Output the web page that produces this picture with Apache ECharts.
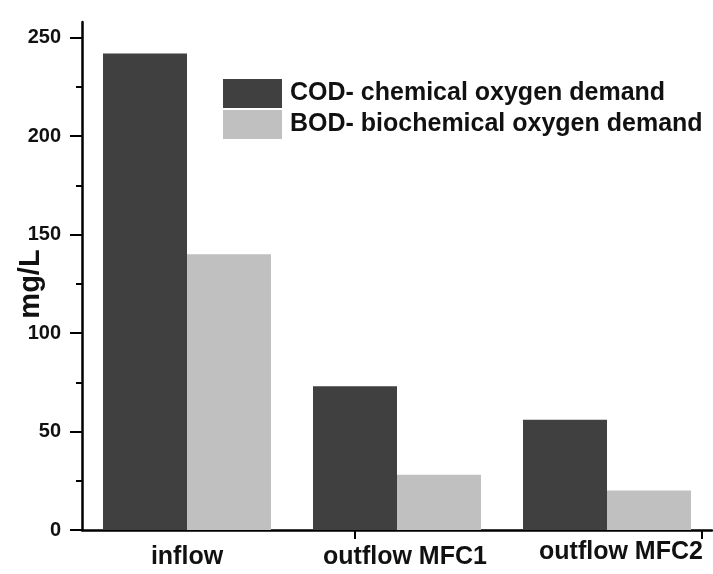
<!DOCTYPE html>
<html>
<head>
<meta charset="utf-8">
<script src="https://cdn.jsdelivr.net/npm/echarts@6/dist/echarts.min.js"></script>
<style>
  html, body { margin: 0; padding: 0; background: #fff; }
  #chart { width: 713px; height: 574px; }
</style>
</head>
<body>
<div id="chart"></div>
<script>
// Wastewater quality before and after the microbial fuel cells
const categories = ['inflow', 'outflow MFC1', 'outflow MFC2'];
const seriesNames = ['COD- chemical oxygen demand', 'BOD- biochemical oxygen demand'];
const codValues = [242, 73, 56];
const bodValues = [140, 28, 20];

// tick marks
const yMajorTicks = [0, 50, 100, 150, 200, 250];
const yMinorTicks = [25, 75, 125, 175, 225];
const xTickMarks = [1.3, 2.95];

const FONT = '"Liberation Sans", Arial, Helvetica, sans-serif';
const TEXT = '#111';
const Y_MAX = 258;
const CAT_FONT = 25;

const labelRich = {
  a: { fontFamily: FONT, fontWeight: 'bold', fontSize: CAT_FONT, color: TEXT, padding: [5, 0, 0, 0] },
  b: { fontFamily: FONT, fontWeight: 'bold', fontSize: CAT_FONT, color: TEXT, padding: [5, 0, 0, 16] },
  c: { fontFamily: FONT, fontWeight: 'bold', fontSize: CAT_FONT, color: TEXT, padding: [0, 0, 0, 28] }
};
const labelKeys = ['a', 'b', 'c'];

const chart = echarts.init(document.getElementById('chart'), null, { renderer: 'canvas' });

chart.setOption({
  animation: false,
  backgroundColor: '#ffffff',
  grid: { left: 82, right: 1, top: 22, bottom: 44, containLabel: false, outerBoundsMode: 'none' },
  legend: {
    data: seriesNames,
    orient: 'vertical',
    left: 223,
    top: 79,
    padding: 0,
    itemWidth: 59,
    itemHeight: 29,
    itemGap: 2,
    icon: 'rect',
    textStyle: { fontFamily: FONT, fontWeight: 'bold', fontSize: 25, color: TEXT, padding: [0, 0, 0, 3] }
  },
  xAxis: [
    {
      type: 'category',
      data: categories,
      position: 'bottom',
      axisLine: { show: true, lineStyle: { color: '#000', width: 2.5 } },
      axisTick: { show: false },
      splitLine: { show: false },
      axisLabel: {
        interval: 0,
        margin: 10,
        fontFamily: FONT,
        fontWeight: 'bold',
        fontSize: CAT_FONT,
        color: TEXT,
        formatter: (value, index) => '{' + labelKeys[index] + '|' + value + '}',
        rich: labelRich
      }
    },
    {
      // plain tick marks along the bottom edge
      type: 'value',
      min: 0,
      max: 3,
      position: 'top',
      offset: -508,
      axisLine: { show: false },
      axisLabel: { show: false },
      splitLine: { show: false },
      axisTick: { show: true, inside: true, length: 9, customValues: xTickMarks, lineStyle: { color: '#000', width: 2 } }
    }
  ],
  yAxis: [
    {
      type: 'value',
      min: 0,
      max: Y_MAX,
      position: 'left',
      name: 'mg/L',
      nameLocation: 'middle',
      nameGap: 37,
      nameMoveOverlap: false,
      nameTextStyle: { fontFamily: FONT, fontWeight: 'bold', fontSize: 29, color: TEXT, padding: [0, 16, 0, 0] },
      axisLine: { show: true, lineStyle: { color: '#000', width: 2.5 } },
      axisTick: { show: true, length: 12, customValues: yMajorTicks, lineStyle: { color: '#000', width: 2 } },
      axisLabel: { margin: 21, customValues: yMajorTicks, fontFamily: FONT, fontWeight: 'bold', fontSize: 20, color: TEXT },
      splitLine: { show: false }
    },
    {
      // minor ticks between the labelled values
      type: 'value',
      min: 0,
      max: Y_MAX,
      position: 'right',
      offset: -630,
      axisLine: { show: false },
      axisLabel: { show: false },
      splitLine: { show: false },
      axisTick: { show: true, inside: true, length: 6, customValues: yMinorTicks, lineStyle: { color: '#000', width: 2 } }
    }
  ],
  series: [
    {
      name: seriesNames[0],
      type: 'bar',
      xAxisIndex: 0,
      yAxisIndex: 0,
      data: codValues,
      barGap: '0%',
      barCategoryGap: '20%',
      itemStyle: { color: '#404040' }
    },
    {
      name: seriesNames[1],
      type: 'bar',
      xAxisIndex: 0,
      yAxisIndex: 0,
      data: bodValues,
      barGap: '0%',
      barCategoryGap: '20%',
      itemStyle: { color: '#c0c0c0' }
    }
  ]
});
</script>
</body>
</html>
